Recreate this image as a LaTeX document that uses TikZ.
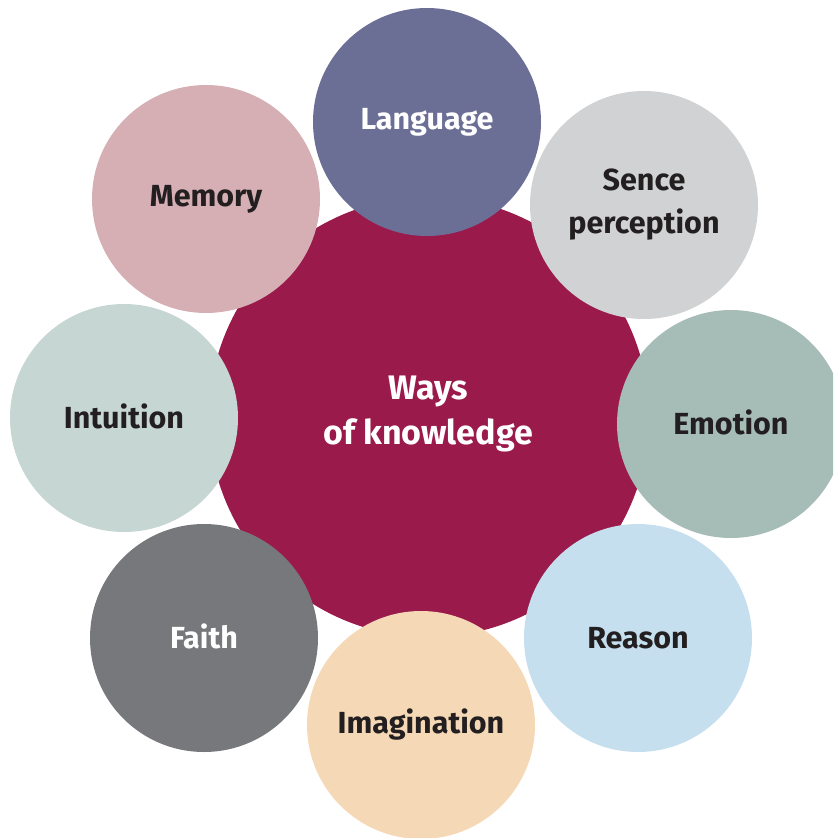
\documentclass[tikz,border=0pt]{standalone}
\usepackage{fontspec}
\setmainfont{Fira Sans}
\definecolor{ccore}{HTML}{9A1B4B}
\definecolor{clang}{HTML}{6B6F96}
\definecolor{csense}{HTML}{D1D2D4}
\definecolor{cemo}{HTML}{A6BDB7}
\definecolor{creason}{HTML}{C5DFEF}
\definecolor{cimag}{HTML}{F5D8B6}
\definecolor{cfaith}{HTML}{77787C}
\definecolor{cintu}{HTML}{C6D6D3}
\definecolor{cmem}{HTML}{D6AFB4}
\definecolor{ctext}{HTML}{231F20}
\begin{document}
\begin{tikzpicture}[x=1pt,y=-1pt,
  core/.style={circle,fill=ccore,draw=none,minimum size=440pt,inner sep=0pt},
  outer/.style={circle,draw=none,minimum size=228pt,inner sep=0pt,align=center,
    font=\bfseries\fontsize{30.5}{43}\selectfont,text=ctext},
  lbl/.style={align=center,font=\bfseries\fontsize{34}{45}\selectfont,text=white}]
\useasboundingbox (0,0) rectangle (833,838);
\clip (0,0) rectangle (833,838);
\node[core] (core) at (429,417) {};
\node[lbl] (wk) at (428,414) {Ways\\of knowledge};
\node[outer,fill=clang,text=white] (lang) at (427,122) {\raisebox{-3pt}{Language}};
\node[outer,fill=csense] (sense) at (644,205) {Sence\\perception};
\node[outer,fill=cemo] (emo) at (731,424) {\raisebox{3pt}{Emotion}};
\node[outer,fill=creason] (reason) at (638,638) {Reason};
\node[outer,fill=cimag] (imag) at (421,725) {Imagination};
\node[outer,fill=cfaith,text=white] (faith) at (204,638) {\raisebox{3pt}{Faith}};
\node[outer,fill=cintu] (intu) at (124,418) {\raisebox{3pt}{Intuition}};
\node[outer,fill=cmem] (mem) at (206,199) {\raisebox{-2pt}{Memory}};
\end{tikzpicture}
\end{document}
